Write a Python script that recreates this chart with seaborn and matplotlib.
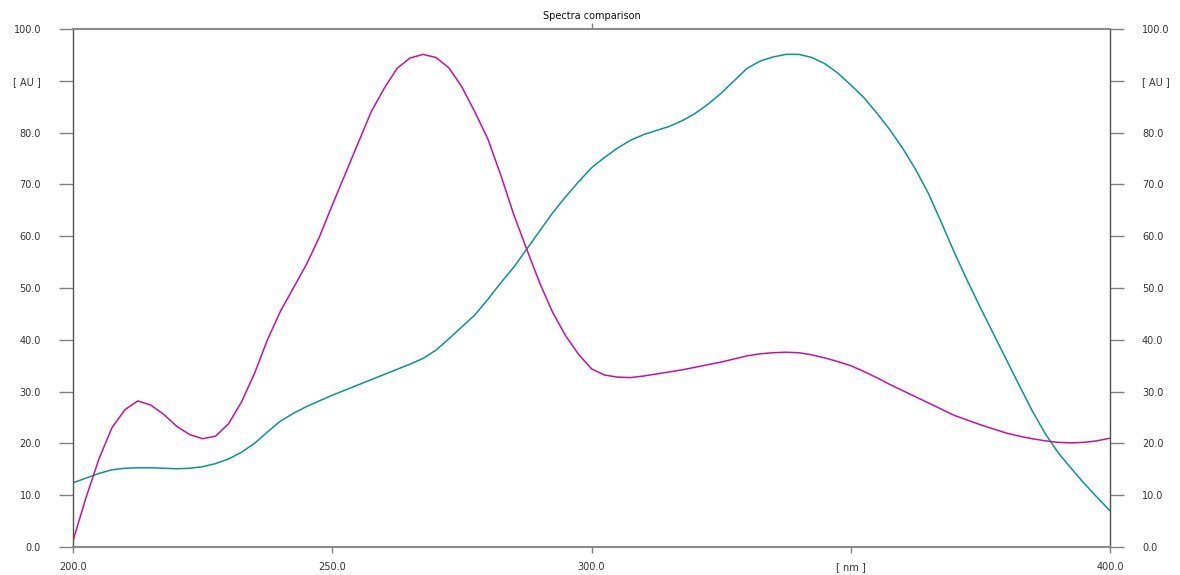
import numpy as np
import pandas as pd
import matplotlib
matplotlib.use("Agg")
import matplotlib.pyplot as plt
import seaborn as sns

# wavelength grid (nm), 2.5 nm step
wavelength = [200 + 2.5 * i for i in range(81)]

spectrum_a = [1.2, 9.5, 17.0, 23.0, 26.5, 28.2, 27.4, 25.6, 23.3, 21.7,
              20.9, 21.4, 23.8, 28.0, 33.5, 40.0, 45.5, 50.0, 54.5, 59.8,
              66.0, 72.0, 78.0, 84.0, 88.5, 92.4, 94.4, 95.1, 94.5, 92.5,
              88.8, 84.0, 78.8, 71.8, 64.2, 57.5, 51.0, 45.3, 40.8, 37.2,
              34.4, 33.2, 32.8, 32.7, 33.0, 33.4, 33.8, 34.2, 34.7, 35.2,
              35.7, 36.3, 36.9, 37.3, 37.5, 37.6, 37.5, 37.1, 36.5, 35.8,
              35.0, 33.9, 32.7, 31.4, 30.2, 29.0, 27.8, 26.6, 25.4, 24.5,
              23.6, 22.8, 22.0, 21.4, 20.9, 20.5, 20.2, 20.1, 20.2, 20.5,
              21.0]

spectrum_b = [12.4, 13.3, 14.2, 14.9, 15.2, 15.3, 15.3, 15.2, 15.1, 15.2,
              15.5, 16.1, 17.0, 18.3, 20.0, 22.2, 24.3, 25.8, 27.1, 28.2,
              29.3, 30.3, 31.3, 32.3, 33.3, 34.3, 35.3, 36.4, 38.0, 40.2,
              42.5, 44.8, 47.8, 51.0, 54.0, 57.5, 61.0, 64.5, 67.6, 70.5,
              73.2, 75.2, 77.0, 78.5, 79.6, 80.4, 81.2, 82.3, 83.7, 85.5,
              87.6, 90.0, 92.4, 93.8, 94.6, 95.1, 95.1, 94.5, 93.3, 91.5,
              89.2, 86.8, 83.8, 80.6, 77.0, 72.9, 68.2, 62.6, 56.8, 51.4,
              46.2, 41.2, 36.2, 31.2, 26.3, 21.9, 18.2, 15.2, 12.3, 9.6,
              7.0]

x_ticks = [200, 250, 300, 350, 400]
x_labels = ["200.0", "250.0", "300.0", "[ nm ]", "400.0"]
y_ticks = [0, 10, 20, 30, 40, 50, 60, 70, 80, 90, 100]
y_labels = ["0.0", "10.0", "20.0", "30.0", "40.0", "50.0", "60.0", "70.0",
            "80.0", "[ AU ]", "100.0"]

sns.set_theme(style="white")
plt.rcParams['font.family'] = ['DejaVu Sans']

df = pd.DataFrame({"nm": wavelength, "a": spectrum_a, "b": spectrum_b})

fig = plt.figure(figsize=(11.8, 5.75), dpi=100)
ax = fig.add_axes([73 / 1180, 1 - 547 / 575, (1110 - 73) / 1180, (547 - 29) / 575])

sns.lineplot(data=df, x="nm", y="b", ax=ax, color="#0a9494", lw=1.1)
sns.lineplot(data=df, x="nm", y="a", ax=ax, color="#c8119c", lw=1.1)

ax.set_xlim(200, 400)
ax.set_ylim(0, 100)
ax.set_xlabel("")
ax.set_ylabel("")
ax.set_title("Spectra comparison", fontsize=7, pad=7, color="#111111")

ax.set_xticks(x_ticks)
ax.set_xticklabels(x_labels)
ax.set_yticks(y_ticks)
ax.set_yticklabels(y_labels)
ax.tick_params(axis="x", direction="out", length=4, width=1, color="#808080",
               labelsize=7, labelcolor="#333333", pad=7, bottom=True)
ax.tick_params(axis="y", direction="out", length=10, width=1, color="#808080",
               labelsize=7, labelcolor="#333333", pad=13, left=True,
               right=True, labelright=True)

for side in ["left", "right"]:
    ax.spines[side].set_color("#505050")
    ax.spines[side].set_linewidth(1.0)
for side in ["top", "bottom"]:
    ax.spines[side].set_color("#8a8a8a")
    ax.spines[side].set_linewidth(1.5)

# little tick on top axis at 300
top = ax.secondary_xaxis("top")
top.set_xticks([300])
top.set_xticklabels([""])
top.tick_params(length=4, width=1, color="#808080")
top.spines["top"].set_visible(False)

fig.savefig("out.png", dpi=100)
